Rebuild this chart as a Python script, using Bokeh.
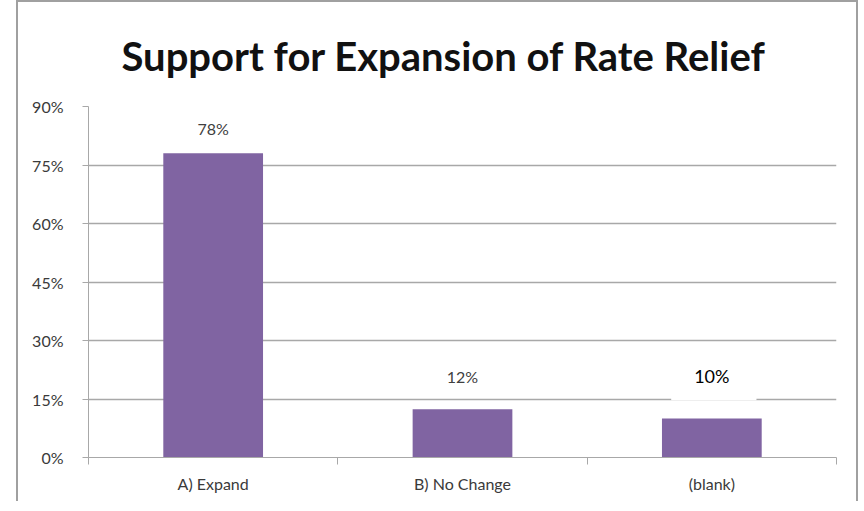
from bokeh.plotting import figure
from bokeh.models import FixedTicker, ColumnDataSource, Range1d
from bokeh.core.properties import value
from bokeh.embed import file_html
from bokeh.resources import INLINE

# ---- data ----
categories = ["A) Expand", "B) No Change", "(blank)"]
support_pct = [78, 12.4, 10]
bar_labels = ["78%", "12%", "10%"]
y_ticks = [0, 15, 30, 45, 60, 75, 90]
y_tick_labels = ["0%", "15%", "30%", "45%", "60%", "75%", "90%"]

# ---- styling ----
label_offsets = [-25, -33, -43]
label_colors = ["#404040", "#404040", "#000000"]
label_sizes = ["16px", "16px", "18px"]
FONT = "Lato"
GRID = "#a8a8a8"
TEXT = "#3a3a3a"

xs = [i + 0.5 for i in range(len(categories))]
n = len(categories)

p = figure(width=842, height=501, output_backend="svg", toolbar_location=None,
           x_range=Range1d(0, n), y_range=Range1d(0, y_ticks[-1]),
           min_border_left=70, min_border_right=24, min_border_top=60,
           min_border_bottom=46, background_fill_color="white",
           border_fill_color="white")
p.styles = {"margin-left": "16px", "margin-top": "0px",
            "border-left": "2px solid #a0a0a0",
            "border-top": "2px solid #a0a0a0", "border-right": "2px solid #a0a0a0"}
p.outline_line_color = None

p.title.text = "Support for Expansion of Rate Relief"
p.title.text_font = FONT
p.title.text_font_style = "bold"
p.title.text_font_size = "40px"
p.title.text_line_height = 1.0
p.title.text_color = "#111111"
p.title.align = "left"
p.title.offset = 33
p.title.standoff = 54

# bars
src = ColumnDataSource(dict(x=xs, top=support_pct, label=bar_labels,
                            off=label_offsets, color=label_colors, size=label_sizes))
p.vbar(x="x", top="top", width=0.4, bottom=0, source=src,
       fill_color="#8064A2", line_color=None)

# white patch behind pasted third label (covers gridline as in the original)
k = n - 1
p.quad(left=[xs[k] - 0.163], right=[xs[k] + 0.179], bottom=[support_pct[k] + 4.7],
       top=[support_pct[k] + 14], fill_color="white", line_color=None, level="overlay")

p.text(x="x", y="top", text="label", y_offset="off", source=src,
       text_align="center", text_baseline="middle", text_font=value(FONT),
       text_font_size="size", text_color="color", level="overlay")

# y axis
p.yaxis.ticker = FixedTicker(ticks=y_ticks)
p.yaxis.major_label_overrides = {t: l for t, l in zip(y_ticks, y_tick_labels)}
p.yaxis.axis_line_color = GRID
p.yaxis.major_tick_line_color = GRID
p.yaxis.major_tick_out = 6
p.yaxis.major_tick_in = 0
p.yaxis.minor_tick_line_color = None
p.yaxis.major_label_text_font = FONT
p.yaxis.major_label_text_font_size = "16px"
p.yaxis.major_label_text_color = TEXT
p.yaxis.major_label_standoff = 19

# x axis: labels at category centers, ticks at category boundaries
p.xaxis.ticker = FixedTicker(ticks=xs, minor_ticks=list(range(n + 1)))
p.xaxis.major_label_overrides = {x: c for x, c in zip(xs, categories)}
p.xaxis.axis_line_color = GRID
p.xaxis.major_tick_line_color = None
p.xaxis.major_tick_out = 0
p.xaxis.major_tick_in = 0
p.xaxis.minor_tick_line_color = GRID
p.xaxis.minor_tick_out = 7
p.xaxis.minor_tick_in = 0
p.xaxis.major_label_text_font = FONT
p.xaxis.major_label_text_font_size = "16px"
p.xaxis.major_label_text_color = TEXT
p.xaxis.major_label_standoff = 9

p.xgrid.grid_line_color = None
p.ygrid.grid_line_color = GRID
p.ygrid.grid_line_width = 1.5

open("out.html", "w").write(file_html(p, INLINE))
